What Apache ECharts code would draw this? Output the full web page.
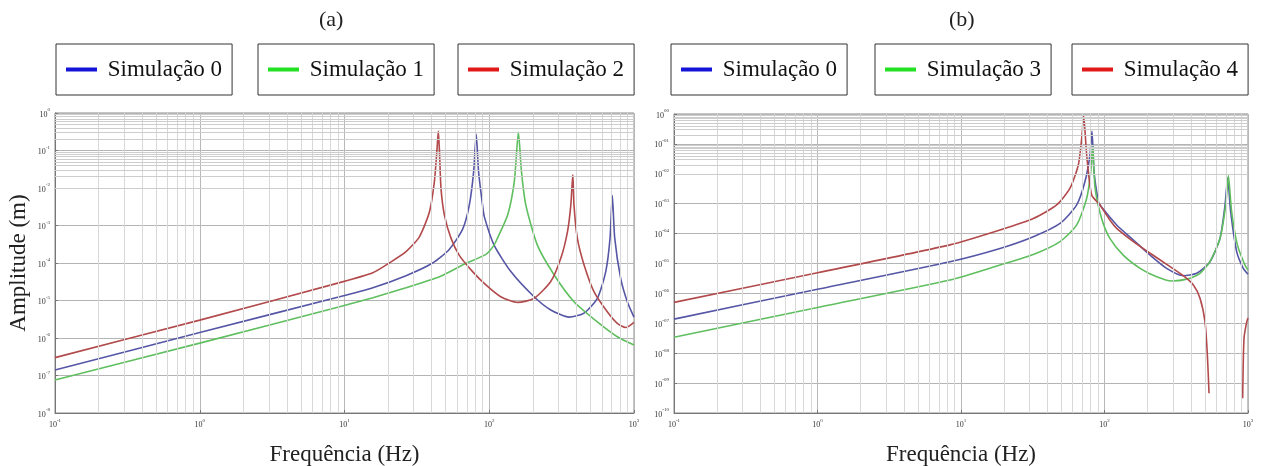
<!DOCTYPE html>
<html>
<head>
<meta charset="utf-8">
<script src="https://cdn.jsdelivr.net/npm/echarts@6/dist/echarts.min.js"></script>
<style>
html,body{margin:0;padding:0;background:#fff;}
#main{width:1262px;height:466px;}
</style>
</head>
<body>
<div id="main"></div>
<script>
// ---------- DATA ----------
const panelTitles = ['(a)', '(b)'];
const seriesNamesA = ['Simulação 0', 'Simulação 1', 'Simulação 2'];
const seriesNamesB = ['Simulação 0', 'Simulação 3', 'Simulação 4'];
const xTickLabels = ['-1', '0', '1', '2', '3'];            // exponents for 10^-1 .. 10^3
const yTickLabelsA = ['0', '-1', '-2', '-3', '-4', '-5', '-6', '-7', '-8'];
const yTickLabelsB = ['00', '-01', '-02', '-03', '-04', '-05', '-06', '-07', '-08', '-09', '-10'];

// Panel (a) - Simulação 0 (blue)
const freqA0 = [0.1, 1, 9.25, 15.7, 26.6, 40.6, 52.9, 65.5, 72.8, 78, 81.3, 84.4, 89.9, 92.5, 108, 141, 204, 266, 356, 452, 558, 638, 683, 708, 736, 809, 899, 1000];
const ampA0  = [1.4e-7, 1.4e-6, 1.26e-5, 2.2e-5, 4.6e-5, 1.0e-4, 2.3e-4, 8.0e-4, 3.5e-3, 0.027, 0.27, 0.027, 3.5e-3, 1.7e-3, 3.0e-4, 5.9e-5, 1.26e-5, 5.6e-6, 3.6e-6, 4.6e-6, 1.14e-5, 5.9e-5, 4.6e-4, 6.3e-3, 4.6e-4, 3.9e-5, 9.3e-6, 3.6e-6];
// Panel (a) - Simulação 1 (green)
const freqA1 = [0.1, 1, 9.25, 15.7, 26.6, 45.2, 69, 94.8, 108, 114, 134, 149, 159, 167, 179, 215, 281, 385, 558, 767, 1000];
const ampA1  = [7.6e-8, 7.3e-7, 6.8e-6, 1.19e-5, 2.2e-5, 4.3e-5, 9.8e-5, 1.7e-4, 3.0e-4, 4.6e-4, 1.9e-3, 0.015, 0.305, 0.027, 3.5e-3, 3.0e-4, 4.8e-5, 9.3e-6, 2.7e-6, 1.08e-6, 6.5e-7];
// Panel (a) - Simulação 2 (red)
const freqA2 = [0.1, 1, 9.25, 15.7, 20.4, 26.6, 32.9, 38.6, 41.8, 43.6, 44.5, 45.4, 46.4, 49, 54.4, 62.1, 76.7, 94.8, 120, 157, 204, 266, 312, 347, 366, 378, 385, 406, 452, 530, 654, 767, 877, 1000];
const ampA2  = [3.0e-7, 3.0e-6, 3.0e-5, 5.5e-5, 1.0e-4, 2.0e-4, 5.0e-4, 2.3e-3, 1.5e-2, 0.114, 0.33, 0.076, 9.8e-3, 1.9e-3, 4.6e-4, 1.6e-4, 5.9e-5, 2.6e-5, 1.26e-5, 8.9e-6, 1.14e-5, 3.2e-5, 1.33e-4, 6.8e-4, 3.5e-3, 0.023, 3.5e-3, 4.6e-4, 8.9e-5, 1.7e-5, 5.0e-6, 2.45e-6, 1.9e-6, 2.6e-6];

// Panel (b) - Simulação 0 (blue)
const freqB0 = [0.1, 1, 8.37, 18.7, 31.9, 49, 64, 73.1, 79.2, 81.8, 84.5, 90.6, 93, 121.6, 159, 208, 271, 354, 439, 543, 638, 692, 722, 757, 834, 927, 1000];
const ampB0  = [1.38e-7, 1.38e-6, 1.15e-5, 3.2e-5, 7.9e-5, 2.2e-4, 9.1e-4, 5.5e-3, 0.043, 0.27, 0.0118, 1.17e-3, 9.0e-4, 1.95e-4, 6.1e-5, 1.9e-5, 6.9e-6, 3.9e-6, 4.7e-6, 1.15e-5, 6.9e-5, 9.1e-4, 7.4e-3, 5.4e-4, 2.5e-5, 6.9e-6, 4.4e-6];
// Panel (b) - Simulação 3 (green)
const freqB3 = [0.1, 1, 8.37, 18.7, 31.9, 49, 64, 75.1, 80.2, 82.7, 86, 95.5, 109, 135, 177, 231, 294, 374, 463, 543, 638, 700, 730, 769, 843, 952, 1000];
const ampB3  = [3.4e-8, 3.4e-7, 2.8e-6, 8.9e-6, 2.0e-5, 5.4e-5, 1.95e-4, 1.5e-3, 0.0118, 0.09, 3.3e-3, 3.2e-4, 6.9e-5, 1.9e-5, 6.9e-6, 3.6e-6, 2.6e-6, 3.0e-6, 4.7e-6, 1.15e-5, 6.9e-5, 9.1e-4, 8.7e-3, 5.4e-4, 4.2e-5, 8.9e-6, 6.0e-6];
// Panel (b) - Simulação 4 (red); null = gap where the curve leaves the axis
const freqB4 = [0.1, 1, 8.37, 18.7, 31.9, 46.4, 57.5, 65.7, 69.4, 71.6, 75.1, 81.4, 93, 109, 121.6, 159, 208, 271, 354, 416, 463, 502, 521, 535, 700, 918, 938, 979, 1000];
const ampB4  = [5.0e-7, 4.9e-6, 4.2e-5, 1.32e-4, 3.2e-4, 9.1e-4, 3.3e-3, 0.0197, 0.155, 0.88, 0.043, 1.95e-3, 9.1e-4, 2.85e-4, 1.5e-4, 5.4e-5, 2.2e-5, 9.4e-6, 3.9e-6, 1.9e-6, 6.9e-7, 1.1e-7, 8.7e-9, 4.6e-10, null, 3.1e-10, 3.2e-8, 1.1e-7, 1.5e-7];

// ---------- STYLE ----------
const FONT = 'Liberation Serif';
const curveColors = ['#5656a6', '#5fbf5f', '#b24a4c'];
const legendColors = ['#1414d8', '#22e022', '#e01818'];

function pairs(xs, ys) {
  return xs.map((x, i) => [x, ys[i] == null ? '-' : ys[i]]);
}
function expOf(v) { return Math.round(Math.log10(v)); }
function minorVals(lo, hi) {
  const out = [];
  for (let k = lo; k < hi; k++) for (let m = 2; m <= 9; m++) out.push(m * Math.pow(10, k));
  return out;
}
const richLbl = {
  b: { fontSize: 8, fontFamily: FONT, color: '#333', lineHeight: 11, verticalAlign: 'bottom' },
  e: { fontSize: 5, fontFamily: FONT, color: '#333', lineHeight: 11, verticalAlign: 'top' }
};

const grids = [
  { left: 55, right: 628, top: 113, bottom: 53, show: true, borderColor: '#8a8a8a', borderWidth: 1, containLabel: false, outerBoundsMode: 'none' },
  { left: 674, right: 14, top: 114, bottom: 53, show: true, borderColor: '#8a8a8a', borderWidth: 1, containLabel: false, outerBoundsMode: 'none' }
];

function xAxisFor(i) {
  return {
    type: 'log', logBase: 10, gridIndex: i, min: 0.1, max: 1000, interval: 1,
    name: 'Frequência (Hz)', nameLocation: 'middle', nameGap: 30,
    nameTextStyle: { fontFamily: FONT, fontSize: 23, color: '#222' },
    axisLine: { show: true, lineStyle: { color: '#777', width: 1 } },
    axisTick: { show: true, inside: true, length: 3, lineStyle: { color: '#777' } },
    axisLabel: { margin: 5, formatter: v => '{b|10}{e|' + xTickLabels[expOf(v) + 1] + '}', rich: richLbl },
    splitLine: { show: true, lineStyle: { color: '#b8b8b8', width: 1 } },
    minorTick: { show: false }, minorSplitLine: { show: false }
  };
}
function yAxisFor(i, minV, labels, withName) {
  return {
    type: 'log', logBase: 10, gridIndex: i, min: minV, max: 1, interval: 1,
    name: withName ? 'Amplitude (m)' : '', nameLocation: 'middle', nameGap: 25, nameRotate: 90,
    nameTextStyle: { fontFamily: FONT, fontSize: 23, color: '#222' },
    axisLine: { show: true, lineStyle: { color: '#777', width: 1 } },
    axisTick: { show: true, inside: true, length: 3, lineStyle: { color: '#777' } },
    axisLabel: { margin: 5, formatter: v => '{b|10}{e|' + labels[-expOf(v)] + '}', rich: richLbl },
    splitLine: { show: true, lineStyle: { color: '#b4b4b4', width: 1 } }
  };
}

function gridSeries(i, yLo) {
  const mx = minorVals(-1, 3).map(v => ({ xAxis: v, lineStyle: { color: '#d8d8d8' } }));
  const my = minorVals(yLo, 0).map(v => ({ yAxis: v, lineStyle: { color: '#cdcdcd' } }));
  return {
    name: 'grid' + i, type: 'line', xAxisIndex: i, yAxisIndex: i, data: [], silent: true, z: 1,
    markLine: {
      silent: true, symbol: ['none', 'none'], animation: false,
      label: { show: false }, emphasis: { disabled: true },
      lineStyle: { color: '#d6d6d6', width: 1, type: 'solid' },
      data: mx.concat(my)
    }
  };
}
function curve(name, i, xs, ys, c) {
  return {
    name: name, type: 'line', xAxisIndex: i, yAxisIndex: i, data: pairs(xs, ys),
    showSymbol: false, symbol: 'rect', symbolSize: 3, smooth: 0.22, connectNulls: false, z: 3,
    lineStyle: { color: c, width: 1.6 }, itemStyle: { color: c }, animation: false
  };
}
function legendBox(left, name, colorIdx) {
  return {
    left: left, top: 44, orient: 'horizontal', selectedMode: false,
    data: [{ name: name, icon: 'rect', itemStyle: { color: legendColors[colorIdx] }, lineStyle: { color: legendColors[colorIdx], width: 4 } }],
    itemWidth: 31, itemHeight: 4, itemGap: 0,
    formatter: n => ' ' + n,
    padding: [14, 10, 14, 10],
    borderColor: '#333', borderWidth: 1, borderRadius: 0,
    textStyle: { fontFamily: FONT, fontSize: 23, color: '#111' }
  };
}

const option = {
  backgroundColor: '#fff',
  animation: false,
  title: [
    { text: panelTitles[0], left: 314, top: 4, textStyle: { fontFamily: FONT, fontSize: 22, fontWeight: 'normal', color: '#222' } },
    { text: panelTitles[1], left: 944, top: 4, textStyle: { fontFamily: FONT, fontSize: 22, fontWeight: 'normal', color: '#222' } }
  ],
  legend: [
    legendBox(56, seriesNamesA[0], 0),
    legendBox(258, seriesNamesA[1], 1),
    legendBox(458, seriesNamesA[2], 2),
    legendBox(671, seriesNamesB[0], 0),
    legendBox(875, seriesNamesB[1], 1),
    legendBox(1072, seriesNamesB[2], 2)
  ],
  grid: grids,
  xAxis: [xAxisFor(0), xAxisFor(1)],
  yAxis: [yAxisFor(0, 1e-8, yTickLabelsA, true), yAxisFor(1, 1e-10, yTickLabelsB, false)],
  series: [
    gridSeries(0, -8),
    gridSeries(1, -10),
    curve(seriesNamesA[0], 0, freqA0, ampA0, curveColors[0]),
    curve(seriesNamesA[1], 0, freqA1, ampA1, curveColors[1]),
    curve(seriesNamesA[2], 0, freqA2, ampA2, curveColors[2]),
    curve(seriesNamesB[0], 1, freqB0, ampB0, curveColors[0]),
    curve(seriesNamesB[1], 1, freqB3, ampB3, curveColors[1]),
    curve(seriesNamesB[2], 1, freqB4, ampB4, curveColors[2])
  ]
};

const chart = echarts.init(document.getElementById('main'), null, { renderer: 'canvas' });
chart.setOption(option);
</script>
</body>
</html>
